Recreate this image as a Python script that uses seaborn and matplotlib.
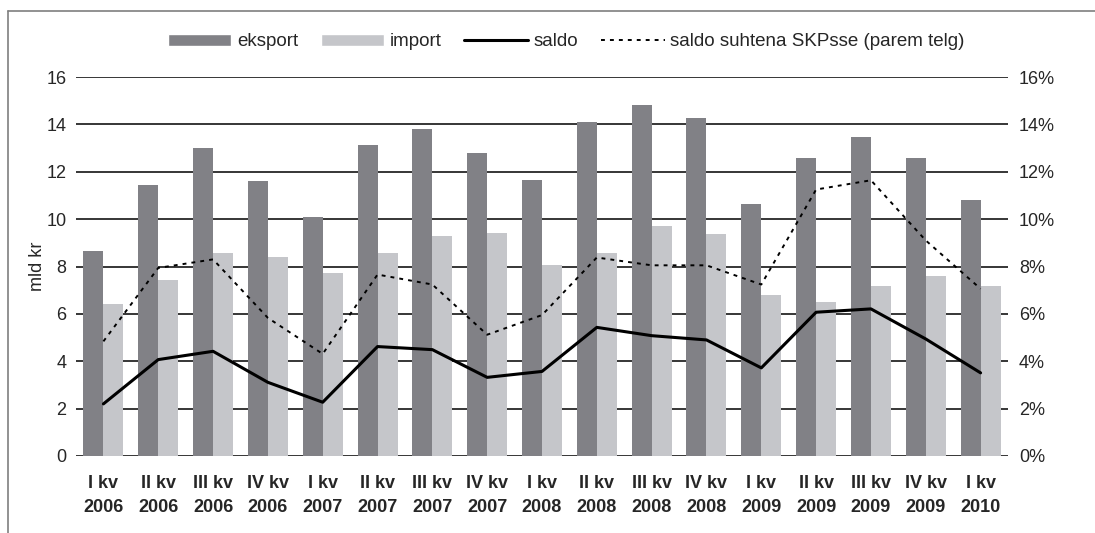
import numpy as np
import pandas as pd
import matplotlib
matplotlib.use("Agg")
import matplotlib.pyplot as plt
import seaborn as sns
from matplotlib.lines import Line2D
from matplotlib.ticker import PercentFormatter

quarters = ["I kv\n2006", "II kv\n2006", "III kv\n2006", "IV kv\n2006",
            "I kv\n2007", "II kv\n2007", "III kv\n2007", "IV kv\n2007",
            "I kv\n2008", "II kv\n2008", "III kv\n2008", "IV kv\n2008",
            "I kv\n2009", "II kv\n2009", "III kv\n2009", "IV kv\n2009",
            "I kv\n2010"]
eksport = [8.64, 11.46, 13.02, 11.59, 10.07, 13.15, 13.79, 12.81,
           11.67, 14.12, 14.80, 14.25, 10.62, 12.60, 13.45, 12.60, 10.79]
importv = [6.43, 7.41, 8.59, 8.42, 7.74, 8.59, 9.27, 9.40,
           8.05, 8.59, 9.70, 9.36, 6.81, 6.52, 7.19, 7.61, 7.19]
saldo = [2.20, 4.07, 4.42, 3.11, 2.27, 4.62, 4.49, 3.32,
         3.57, 5.43, 5.08, 4.90, 3.72, 6.07, 6.21, 4.94, 3.51]
saldo_pct = [4.84, 7.94, 8.30, 5.83, 4.31, 7.66, 7.24, 5.12,
             5.95, 8.38, 8.05, 8.05, 7.24, 11.25, 11.64, 9.10, 7.06]

series_names = ["eksport", "import"]
colors = ["#818186", "#c5c6ca"]

sns.set_style("white")
plt.rcParams["font.family"] = ["Liberation Sans", "DejaVu Sans"]

W, H = 1095, 533
fig = plt.figure(figsize=(W / 100, H / 100), dpi=100)
ax = fig.add_axes([76 / W, 1 - 456 / H, (1008 - 76) / W, (456 - 77) / H])

df = pd.DataFrame({
    "kvartal": quarters * 2,
    "väärtus": eksport + importv,
    "seeria": [series_names[0]] * len(quarters) + [series_names[1]] * len(quarters),
})
sns.barplot(data=df, x="kvartal", y="väärtus", hue="seeria", palette=colors,
            width=0.73, gap=0, saturation=1, ax=ax, legend=True, zorder=2)
for c in ax.containers:
    for p in c:
        p.set_edgecolor("none")

pos = np.arange(len(quarters))
sns.lineplot(x=pos, y=saldo, color="black", linewidth=2.2, ax=ax, zorder=4,
             legend=False)

ax.set_xlim(-0.5, len(quarters) - 0.5)
ax.set_ylim(0, 16)
ax.set_yticks(np.arange(0, 17, 2))
ax.yaxis.grid(True, color="black", linewidth=1.1)
ax.set_axisbelow(True)
for s in ax.spines.values():
    s.set_visible(False)
ax.set_xlabel("")
ax.set_ylabel("mld kr", fontsize=13, labelpad=0)
ax.tick_params(axis="y", length=0, pad=7, labelsize=13)
ax.tick_params(axis="x", length=0, pad=14)
ax.set_xticks(pos)
ax.set_xticklabels(quarters, fontsize=13, fontweight="bold", linespacing=1.5)

ax2 = ax.twinx()
ax2.plot(pos, saldo_pct, color="black", linewidth=1.4, linestyle=(0, (2, 2.6)), zorder=5)
ax2.set_ylim(0, 16)
ax2.set_yticks(np.arange(0, 17, 2))
ax2.yaxis.set_major_formatter(PercentFormatter(decimals=0))
ax2.tick_params(axis="y", length=0, pad=8, labelsize=13)
for s in ax2.spines.values():
    s.set_visible(False)

handles, labels = ax.get_legend_handles_labels()
ax.get_legend().remove()
handles = handles[:2] + [
    Line2D([], [], color="black", linewidth=2.2),
    Line2D([], [], color="black", linewidth=1.4, linestyle=(0, (2, 2.6))),
]
labels = series_names + ["saldo", "saldo suhtena SKPsse (parem telg)"]
fig.legend(handles, labels, loc="center", bbox_to_anchor=(566 / W, 1 - 42 / H),
           ncol=4, frameon=False, fontsize=13.5, handlelength=3.4,
           handleheight=0.55, handletextpad=0.3, columnspacing=1.2)

# outer frame (left and top edges)
fig.add_artist(Line2D([8 / W, 8 / W], [0, 1 - 10.5 / H], transform=fig.transFigure,
                      color="#7f7f7f", linewidth=1.2))
fig.add_artist(Line2D([8 / W, 1], [1 - 10.5 / H, 1 - 10.5 / H], transform=fig.transFigure,
                      color="#7f7f7f", linewidth=1.2))

fig.savefig("out.png", dpi=100, facecolor="white")
